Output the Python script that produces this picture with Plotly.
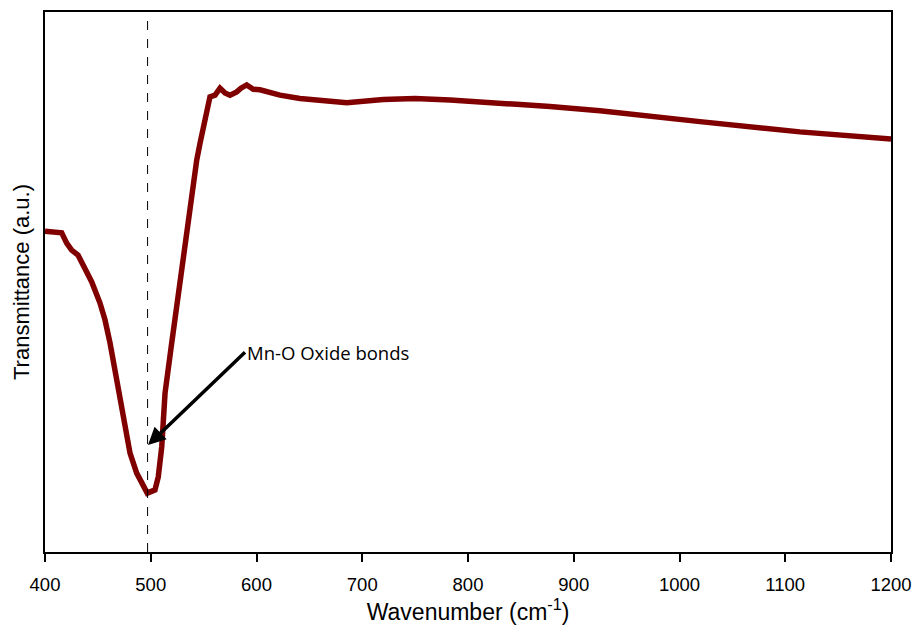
import plotly.graph_objects as go

wavenumber = [400, 404.7, 415.8, 420.5, 425.2, 431.2, 437.8, 444.2, 452.0, 456.7, 461.5,
              466.2, 470.9, 475.7, 480.4, 486.7, 493.0, 496.7, 504.0, 507.1, 510.4,
              513.5, 519.8, 526.1, 532.4, 538.7, 543.5, 546.6, 551.3, 556.0, 560.8,
              565.5, 570.2, 574.9, 581.3, 585.3, 590.7, 597.0, 603.3, 622.2, 641.1,
              660.0, 685.3, 719.9, 749.9, 783.0, 814.5, 846.0, 877.5, 924.8, 1019.4,
              1113.9, 1200]
transmittance = [59.4, 59.3, 59.1, 57.2, 55.9, 55.0, 52.6, 50.0, 46.1, 43.0, 38.7,
                 33.7, 28.7, 22.6, 18.3, 14.6, 11.9, 10.9, 11.5, 13.9, 19.5,
                 29.4, 38.7, 48.0, 57.2, 66.5, 72.6, 75.7, 80.6, 84.3, 84.6,
                 85.9, 85.0, 84.6, 85.2, 85.9, 86.5, 85.7, 85.6, 84.6, 84.0,
                 83.6, 83.2, 83.8, 84.0, 83.7, 83.4, 82.9, 82.5, 81.7, 79.7,
                 77.8, 76.5]

x_ticks = [400, 500, 600, 700, 800, 900, 1000, 1100, 1200]
peak_wavenumber = 497
annotation_text = "Mn-O Oxide bonds"
arrow_head = (497.4, 19.8)
arrow_tail = (589.1, 37.0)

fig = go.Figure()
fig.add_trace(go.Scatter(
    x=wavenumber, y=transmittance, mode="lines",
    line=dict(color="#800000", width=5.5), showlegend=False, hoverinfo="skip"))

fig.add_shape(type="line", xref="x", yref="paper",
              x0=peak_wavenumber, x1=peak_wavenumber, y0=0, y1=1,
              line=dict(color="black", width=1, dash="dash"))

fig.add_annotation(
    x=arrow_head[0], y=arrow_head[1], ax=arrow_tail[0], ay=arrow_tail[1],
    axref="x", ayref="y", xref="x", yref="y",
    text=annotation_text, showarrow=True, arrowhead=2, arrowsize=1.0,
    arrowwidth=3.5, arrowcolor="black", xanchor="left", yanchor="middle",
    standoff=0, startstandoff=0,
    font=dict(family="Open Sans", size=18.5, color="black"))

fig.update_layout(
    template="none",
    width=915, height=626,
    margin=dict(l=45, r=24, t=12, b=74),
    paper_bgcolor="white", plot_bgcolor="white",
    font=dict(family="Liberation Sans, Arial", color="black"),
    xaxis=dict(
        range=[400, 1200], tickvals=x_ticks, ticktext=[str(v) for v in x_ticks],
        showline=True, linecolor="black", linewidth=1.5, mirror=True,
        ticks="outside", ticklen=8, tickwidth=1.5, tickcolor="black",
        showgrid=False, zeroline=False, tickfont=dict(size=18.5),
        ticklabelstandoff=7, automargin=False,
        title=dict(text="Wavenumber (cm<sup>-1</sup>)", font=dict(size=23), standoff=5)),
    yaxis=dict(
        range=[0, 100], showticklabels=False, ticks="",
        showline=True, linecolor="black", linewidth=1.5, mirror=True,
        showgrid=False, zeroline=False, automargin=False,
        title=dict(text="Transmittance (a.u.)", font=dict(size=22), standoff=8)),
)

fig.write_html("out.html")
